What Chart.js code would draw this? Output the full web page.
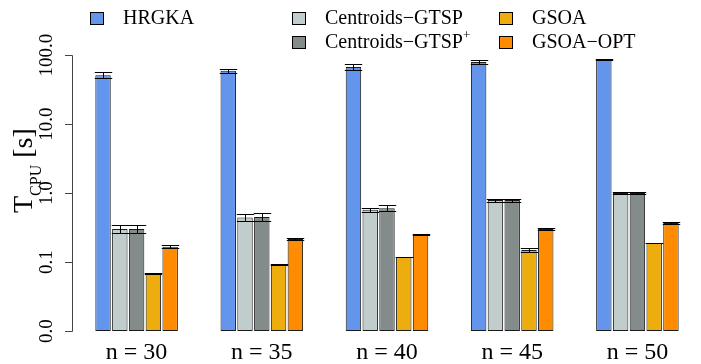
<!DOCTYPE html>
<html>
<head>
<meta charset="utf-8">
<script src="https://cdn.jsdelivr.net/npm/chart.js@4"></script>
<style>
  body { margin: 0; background: #fff; }
  canvas { display: block; }
</style>
</head>
<body>
<canvas id="chart" width="701" height="364"></canvas>
<script>
const categories = ["n = 30", "n = 35", "n = 40", "n = 45", "n = 50"];

const hrgka = [51, 59, 67, 79, 86];
const centroidsGtsp = [0.30, 0.44, 0.57, 0.79, 1.0];
const centroidsGtspPlus = [0.30, 0.45, 0.60, 0.79, 1.0];
const gsoa = [0.069, 0.091, 0.118, 0.149, 0.188];
const gsoaOpt = [0.166, 0.215, 0.25, 0.30, 0.367];

// +/- spread of each bar (error bars)
const hrgkaErr = [5, 4, 6, 6, 2];
const centroidsGtspErr = [0.04, 0.05, 0.04, 0.04, 0.03];
const centroidsGtspPlusErr = [0.04, 0.06, 0.06, 0.04, 0.03];
const gsoaErr = [0.001, 0.001, 0.001, 0.008, 0.001];
const gsoaOptErr = [0.008, 0.008, 0.005, 0.008, 0.008];

const yTicks = [0.01, 0.1, 1, 10, 100];
const yTickLabels = ["0.0", "0.1", "1.0", "10.0", "100.0"];

const serif = "'Liberation Serif', 'DejaVu Serif', serif";

const errorBars = {
  id: "errorBars",
  afterDatasetsDraw(chart) {
    const ctx = chart.ctx;
    const y = chart.scales.y;
    ctx.save();
    ctx.strokeStyle = "#000";
    ctx.lineWidth = 1;
    chart.data.datasets.forEach((ds, di) => {
      const meta = chart.getDatasetMeta(di);
      meta.data.forEach((bar, i) => {
        const v = ds.data[i];
        const e = ds.err[i];
        const top = Math.round(y.getPixelForValue(v + e)) + 0.5;
        const bot = Math.round(y.getPixelForValue(v - e)) + 0.5;
        const half = bar.width / 2 + 1;
        const cx = Math.round(bar.x) + 0.5;
        ctx.beginPath();
        ctx.moveTo(cx - half, top); ctx.lineTo(cx + half, top);
        ctx.moveTo(cx - half, bot); ctx.lineTo(cx + half, bot);
        ctx.moveTo(cx, top); ctx.lineTo(cx, bot);
        ctx.stroke();
      });
    });
    ctx.restore();
  }
};

const axesAndLegend = {
  id: "axesAndLegend",
  afterDraw(chart) {
    const ctx = chart.ctx;
    const y = chart.scales.y;
    const x = chart.scales.x;
    ctx.save();

    // y axis
    ctx.strokeStyle = "#444";
    ctx.lineWidth = 1;
    ctx.beginPath();
    ctx.moveTo(72.5, Math.round(y.getPixelForValue(yTicks[0])) + 0.5);
    ctx.lineTo(72.5, Math.round(y.getPixelForValue(yTicks[yTicks.length - 1])) + 0.5);
    yTicks.forEach(t => {
      const py = Math.round(y.getPixelForValue(t)) + 0.5;
      ctx.moveTo(65, py); ctx.lineTo(72.5, py);
    });
    ctx.stroke();

    ctx.fillStyle = "#000";
    ctx.font = "19px " + serif;
    ctx.textAlign = "center";
    ctx.textBaseline = "alphabetic";
    yTicks.forEach((t, i) => {
      const py = y.getPixelForValue(t);
      ctx.save();
      ctx.translate(52, py);
      ctx.rotate(-Math.PI / 2);
      ctx.fillText(yTickLabels[i], 0, 0);
      ctx.restore();
    });

    // y title: T_CPU [s]
    ctx.save();
    ctx.translate(32, 213);
    ctx.rotate(-Math.PI / 2);
    ctx.textAlign = "left";
    ctx.font = "28px " + serif;
    ctx.fillText("T", 0, 0);
    let w = ctx.measureText("T").width;
    ctx.font = "16px " + serif;
    ctx.fillText("CPU", w, 9);
    w += ctx.measureText("CPU").width;
    ctx.font = "28px " + serif;
    ctx.fillText(" [s]", w, 0);
    ctx.restore();

    // category labels
    ctx.font = "24px " + serif;
    ctx.textAlign = "center";
    categories.forEach((c, i) => {
      ctx.fillText(c, x.getPixelForTick(i), 359);
    });

    // legend
    const items = [
      { ds: 0, sx: 90, ty: 18 },
      { ds: 1, sx: 292, ty: 18 },
      { ds: 2, sx: 292, ty: 42 },
      { ds: 3, sx: 499, ty: 18 },
      { ds: 4, sx: 499, ty: 42 }
    ];
    ctx.font = "20px " + serif;
    ctx.textAlign = "left";
    ctx.textBaseline = "middle";
    items.forEach(it => {
      const ds = chart.data.datasets[it.ds];
      ctx.fillStyle = ds.backgroundColor;
      ctx.fillRect(it.sx + 0.5, it.ty - 6 + 0.5, 13, 12);
      ctx.strokeStyle = "#000";
      ctx.strokeRect(it.sx + 0.5, it.ty - 6 + 0.5, 13, 12);
      ctx.fillStyle = "#000";
      const tx = it.sx + 33;
      if (ds.label === "Centroids\u2212GTSP+") {
        ctx.fillText("Centroids\u2212GTSP", tx, it.ty + 1);
        const ww = ctx.measureText("Centroids\u2212GTSP").width;
        ctx.font = "13px " + serif;
        ctx.fillText("+", tx + ww, it.ty - 6);
        ctx.font = "20px " + serif;
      } else {
        ctx.fillText(ds.label, tx, it.ty + 1);
      }
    });
    ctx.restore();
  }
};

new Chart(document.getElementById("chart").getContext("2d"), {
  type: "bar",
  data: {
    labels: categories,
    datasets: [
      { label: "HRGKA", data: hrgka, err: hrgkaErr, backgroundColor: "#6495ED" },
      { label: "Centroids\u2212GTSP", data: centroidsGtsp, err: centroidsGtspErr, backgroundColor: "#C1CDCD" },
      { label: "Centroids\u2212GTSP+", data: centroidsGtspPlus, err: centroidsGtspPlusErr, backgroundColor: "#838B8B" },
      { label: "GSOA", data: gsoa, err: gsoaErr, backgroundColor: "#EEAD0E" },
      { label: "GSOA\u2212OPT", data: gsoaOpt, err: gsoaOptErr, backgroundColor: "#FF8C00" }
    ].map(d => Object.assign(d, {
      borderColor: "#1a1a1a",
      borderWidth: 1,
      borderSkipped: false,
      categoryPercentage: 0.67,
      barPercentage: 0.92
    }))
  },
  options: {
    responsive: false,
    animation: false,
    layout: { padding: { left: 74, right: 1, top: 55, bottom: 33 } },
    plugins: { legend: { display: false }, tooltip: { enabled: false } },
    scales: {
      x: { display: false },
      y: { type: "logarithmic", display: false, min: 0.01, max: 100 }
    }
  },
  plugins: [errorBars, axesAndLegend]
});
</script>
</body>
</html>
